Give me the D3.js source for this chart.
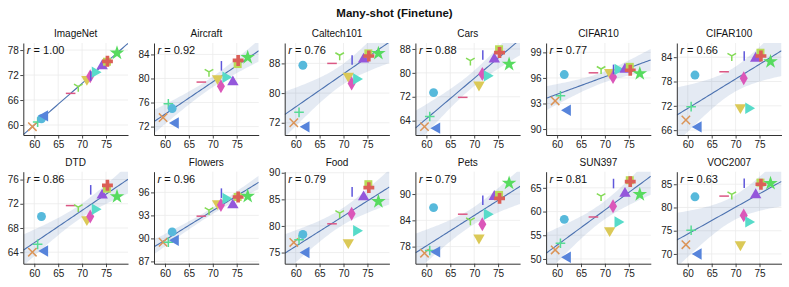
<!DOCTYPE html>
<html>
<head>
<meta charset="utf-8">
<script src="https://cdn.jsdelivr.net/npm/d3@7"></script>
<style>
  body { margin: 0; background: #fff; }
  svg { display: block; font-family: "Liberation Sans", Arial, sans-serif; }
</style>
</head>
<body>
<svg id="chart" width="789" height="287"></svg>
<script>
// one entry per model, in drawing order
const markers = ['x', 'plus', 'circle', 'tri-left', 'hline', 'tri-y', 'tri-down', 'diamond', 'vline', 'tri-right', 'tri-up', 'square', 'cross', 'star'];
const hueIndex = [1, 6, 8, 9, 14, 4, 2, 13, 10, 7, 11, 3, 0, 5];

// x: ImageNet accuracy of each model
const imagenetAcc = [59.6, 60.7, 61.5, 62.2, 67.6, 69.2, 71.0, 71.7, 71.8, 72.7, 74.2, 75.2, 75.3, 77.3];

// y: transfer accuracy per dataset
const yImageNet   = [59.6, 60.7, 61.5, 62.2, 67.6, 69.2, 71.0, 71.7, 71.8, 72.7, 74.2, 75.2, 75.3, 77.3];
const yAircraft   = [73.5, 75.8, 75.0, 72.6, 79.4, 81.1, 80.0, 78.7, 82.1, 80.2, 79.4, 82.4, 83.0, 83.5];
const yCaltech101 = [72.0, 74.8, 87.5, 70.9, 88.0, 90.2, 84.6, 82.6, 88.9, 83.8, 89.1, 90.7, 90.0, 90.7];
const yCars       = [62.0, 65.4, 73.4, 61.5, 71.8, 84.1, 76.0, 79.6, 86.0, 79.0, 84.6, 87.9, 86.8, 82.9];
const yCIFAR10    = [93.3, 93.9, 96.4, 92.2, 96.6, 97.05, 96.65, 96.1, 97.0, 97.0, 97.0, 97.3, 96.9, 96.5];
const yCIFAR100   = [68.5, 71.8, 79.6, 66.8, 80.4, 84.3, 71.6, 78.8, 84.3, 71.4, 83.7, 85.1, 84.3, 82.9];
const yDTD        = [64.0, 65.3, 69.9, 64.2, 71.7, 71.45, 69.4, 69.9, 74.3, 71.1, 73.4, 74.5, 75.05, 73.2];
const yFlowers    = [89.5, 89.5, 90.85, 89.75, 92.9, 93.7, 94.55, 94.35, 95.9, 95.2, 94.35, 95.4, 95.4, 95.5];
const yFood       = [76.9, 77.4, 78.4, 75.0, 80.4, 82.4, 76.9, 82.3, 86.4, 79.1, 85.45, 87.85, 87.2, 84.6];
const yPets       = [76.5, 77.1, 86.9, 76.8, 85.4, 84.0, 80.0, 83.1, 88.6, 85.4, 89.4, 89.8, 89.0, 92.5];
const ySUN397     = [51.9, 53.3, 58.35, 50.35, 58.85, 63.25, 56.0, 61.1, 65.9, 57.8, 63.8, 66.6, 66.3, 63.6];
const yVOC2007    = [72.0, 75.1, 82.3, 70.0, 82.45, 82.8, 72.0, 78.3, 85.2, 76.9, 82.7, 85.35, 85.0, 85.2];

const datasetNames = ['ImageNet', 'Aircraft', 'Caltech101', 'Cars', 'CIFAR10', 'CIFAR100',
                      'DTD', 'Flowers', 'Food', 'Pets', 'SUN397', 'VOC2007'];
const datasetValues = [yImageNet, yAircraft, yCaltech101, yCars, yCIFAR10, yCIFAR100,
                       yDTD, yFlowers, yFood, yPets, ySUN397, yVOC2007];
const rLabels = ['1.00', '0.92', '0.76', '0.88', '0.77', '0.66', '0.86', '0.96', '0.79', '0.79', '0.81', '0.63'];

// axis limits and tick labels
const xLimits = [57.7, 79.6];
const xTicks = [60, 65, 70, 75];
const yLimits = [[57.6, 79.7], [70.6, 85.9], [68.7, 93.5], [59.2, 90.0], [89.3, 100.1], [64.8, 87.5],
                 [62.1, 77.3], [86.7, 98.7], [72.9, 90.2], [74.1, 95.1], [49.0, 68.4], [67.9, 87.7]];
const yTicks = [[60, 66, 72, 78], [72, 76, 80, 84], [72, 80, 88], [64, 72, 80, 88], [90, 93, 96, 99], [66, 72, 78, 84],
                [64, 68, 72, 76], [87, 90, 93, 96], [75, 80, 85, 90], [78, 84, 90], [50, 55, 60, 65], [70, 75, 80, 85]];

const title = 'Many-shot (Finetune)';

// seaborn "hls" palette, 15 colours
const palette = d3.range(15).map(i => d3.hsl(((0.01 + i / 15) % 1) * 360, 0.65, 0.6).formatHex());

const svg = d3.select('#chart');
const W = 789;

// panel layout
const panelW = 104.7, panelH = 92;
const colX = d3.range(6).map(i => 23.3 + i * 130.7);
const rowY = [43, 171.7];

svg.append('text')
    .attr('x', W / 2).attr('y', 17)
    .attr('text-anchor', 'middle')
    .attr('font-size', 11.5).attr('font-weight', 'bold')
    .attr('fill', '#111')
    .text(title);

// marker shapes
const lineMarkers = {
    'x': 'M-4.2,-4.2L4.2,4.2M-4.2,4.2L4.2,-4.2',
    'plus': 'M-4.8,0H4.8M0,-4.8V4.8',
    'hline': 'M-4.8,0H4.8',
    'vline': 'M0,-4.8V4.8',
    'tri-y': 'M0,0V5M0,0L-4.3,-2.5M0,0L4.3,-2.5'
};
function symbolPath(m) {
    if (lineMarkers[m]) return lineMarkers[m];
    const types = {
        'circle': [d3.symbolCircle, 62],
        'square': [d3.symbolSquare, 64],
        'diamond': [d3.symbolDiamond, 56],
        'cross': [d3.symbolCross, 66],
        'star': [d3.symbolStar, 66],
        'tri-up': [d3.symbolTriangle, 56],
        'tri-down': [d3.symbolTriangle, 56],
        'tri-left': [d3.symbolTriangle, 56],
        'tri-right': [d3.symbolTriangle, 56]
    };
    const t = types[m];
    return d3.symbol().type(t[0]).size(t[1])();
}
const rotation = {'tri-down': 180, 'tri-left': -90, 'tri-right': 90};

// least squares fit with 95% band for the mean
function regress(xs, ys) {
    const n = xs.length;
    const mx = d3.mean(xs), my = d3.mean(ys);
    let sxx = 0, sxy = 0;
    xs.forEach((x, i) => { sxx += (x - mx) ** 2; sxy += (x - mx) * (ys[i] - my); });
    const b = sxy / sxx, a = my - b * mx;
    let sse = 0;
    xs.forEach((x, i) => { sse += (ys[i] - a - b * x) ** 2; });
    const s = Math.sqrt(sse / (n - 2));
    const t = 2.179;
    return x => {
        const yhat = a + b * x;
        const h = t * s * Math.sqrt(1 / n + (x - mx) ** 2 / sxx);
        return [yhat, yhat - h, yhat + h];
    };
}

datasetNames.forEach((name, k) => {
    const col = k % 6, row = Math.floor(k / 6);
    const ys = datasetValues[k];
    const g = svg.append('g').attr('transform', `translate(${colX[col]},${rowY[row]})`);

    const x = d3.scaleLinear().domain(xLimits).range([0, panelW]);
    const y = d3.scaleLinear().domain(yLimits[k]).range([panelH, 0]);

    // grid
    g.append('g').selectAll('line').data(xTicks).join('line')
        .attr('x1', d => x(d)).attr('x2', d => x(d))
        .attr('y1', 0).attr('y2', panelH)
        .attr('stroke', '#ebebeb').attr('stroke-width', 0.8);
    g.append('g').selectAll('line').data(yTicks[k]).join('line')
        .attr('x1', 0).attr('x2', panelW)
        .attr('y1', d => y(d)).attr('y2', d => y(d))
        .attr('stroke', '#ebebeb').attr('stroke-width', 0.8);

    // regression band and line, clipped to the axes
    const clipId = 'clip' + k;
    g.append('clipPath').attr('id', clipId)
        .append('rect').attr('width', panelW).attr('height', panelH);
    const fit = regress(imagenetAcc, ys);
    const xs = d3.range(0, 61).map(i => xLimits[0] + (xLimits[1] - xLimits[0]) * i / 60);
    const fitted = xs.map(v => [v, ...fit(v)]);
    const plot = g.append('g').attr('clip-path', `url(#${clipId})`);
    plot.append('path')
        .datum(fitted)
        .attr('d', d3.area().x(d => x(d[0])).y0(d => y(d[2])).y1(d => y(d[3])))
        .attr('fill', '#4c72b0').attr('fill-opacity', 0.15);
    plot.append('path')
        .datum(fitted)
        .attr('d', d3.line().x(d => x(d[0])).y(d => y(d[1])))
        .attr('fill', 'none').attr('stroke', '#4c72b0').attr('stroke-width', 1.1);

    // axes
    const xAxis = g.append('g').attr('transform', `translate(0,${panelH})`)
        .call(d3.axisBottom(x).tickValues(xTicks).tickSize(3.5).tickSizeOuter(0).tickPadding(2.5));
    const yAxis = g.append('g')
        .call(d3.axisLeft(y).tickValues(yTicks[k]).tickSize(3).tickSizeOuter(0).tickPadding(1.5));
    [xAxis, yAxis].forEach(a => {
        a.select('.domain').attr('stroke', '#333').attr('stroke-width', 1);
        a.selectAll('.tick line').attr('stroke', '#333').attr('stroke-width', 0.9);
        a.selectAll('.tick text').attr('font-size', 10).attr('fill', '#222')
            .attr('font-family', '"Liberation Sans", Arial, sans-serif');
    });

    // model points
    g.append('g').selectAll('path').data(markers).join('path')
        .attr('transform', (m, i) => `translate(${x(imagenetAcc[i])},${y(ys[i])}) rotate(${rotation[m] || 0})`)
        .attr('d', m => symbolPath(m))
        .each(function (m, i) {
            const c = palette[hueIndex[i]];
            if (lineMarkers[m]) {
                d3.select(this).attr('fill', 'none').attr('stroke', c).attr('stroke-width', 1.5);
            } else {
                d3.select(this).attr('fill', c).attr('stroke', 'none');
            }
        });

    // panel title and correlation
    g.append('text')
        .attr('x', panelW / 2).attr('y', -6)
        .attr('text-anchor', 'middle')
        .attr('font-size', 10).attr('fill', '#111')
        .text(name);
    const r = g.append('text')
        .attr('x', 3.5).attr('y', 11)
        .attr('font-size', 11).attr('fill', '#111');
    r.append('tspan').attr('font-style', 'italic').text('r');
    r.append('tspan').text(' = ' + rLabels[k]);
});
</script>
</body>
</html>
